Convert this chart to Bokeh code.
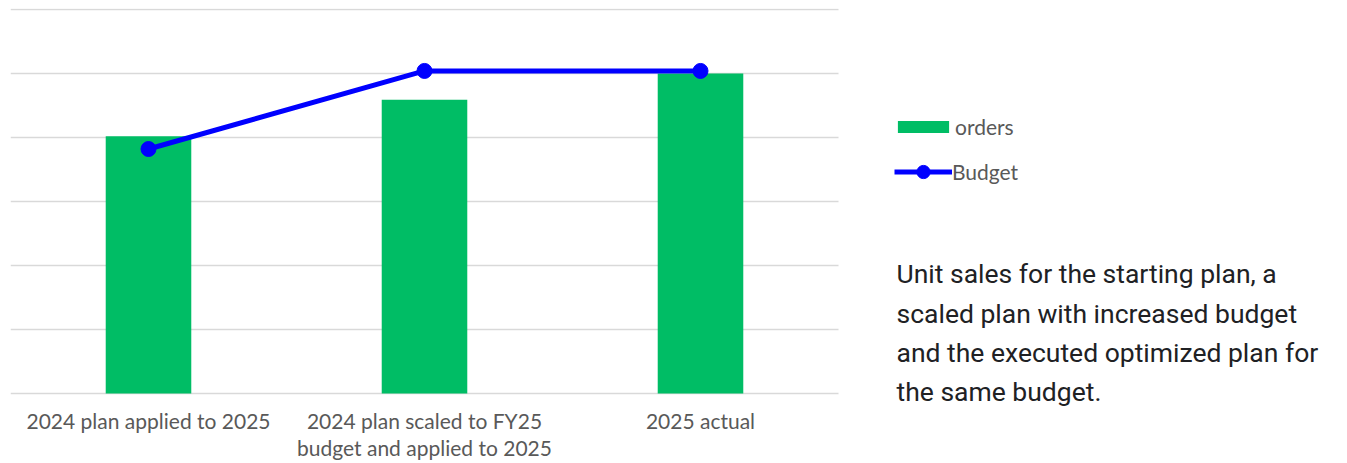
from bokeh.plotting import figure
from bokeh.models import (ColumnDataSource, Range1d, FixedTicker,
                          Legend, LegendItem, Label)
from bokeh.embed import file_html
from bokeh.resources import INLINE

# ---- data (in gridline units) ----
categories = ["2024 plan applied to 2025",
              "2024 plan scaled to FY25\nbudget and applied to 2025",
              "2025 actual"]
orders = [4.02, 4.59, 5.0]
budget = [3.82, 5.04, 5.04]
grid_ticks = [0, 1, 2, 3, 4, 5, 6]
caption_lines = ["Unit sales for the starting plan, a",
                 "scaled plan with increased budget",
                 "and the executed optimized plan for",
                 "the same budget."]
legend_labels = ["orders", "Budget"]

xs = [i + 0.5 for i in range(len(categories))]
src = ColumnDataSource(dict(x=xs, cat=categories, orders=orders, budget=budget))

# frame: image y 8 .. ~410, 64 px per gridline unit, y=0 at image y 393
p = figure(width=1347, height=463, output_backend="svg", toolbar_location=None,
           x_range=Range1d(0, 1337 / 276),
           y_range=Range1d(-17 / 64, 385 / 64),
           min_border_left=10, min_border_right=0,
           min_border_top=8, min_border_bottom=0)
p.outline_line_color = None
p.background_fill_color = "white"
p.border_fill_color = "white"

bars = p.vbar(x="x", top="orders", width=0.31, bottom=0, source=src,
              fill_color="#00bd65", line_color=None)
line = p.line(x="x", y="budget", source=src, line_color="#0000ff", line_width=5)
dots = p.scatter(x="x", y="budget", source=src, size=15, fill_color="#0000ff",
                 line_color="#0000ff")

p.yaxis.visible = False
p.ygrid.ticker = FixedTicker(ticks=grid_ticks)
p.ygrid.grid_line_color = "#d9d9d9"
p.ygrid.grid_line_width = 1.6
p.ygrid.cross_bounds = (0, len(categories))
p.xgrid.grid_line_color = None

ax = p.xaxis[0]
ax.ticker = FixedTicker(ticks=xs)
ax.major_label_overrides = {x: c for x, c in zip(xs, categories)}
ax.axis_line_color = None
ax.major_tick_line_color = None
ax.minor_tick_line_color = None
ax.major_label_standoff = -9
ax.major_label_text_font = "Lato"
ax.major_label_text_font_size = "21px"
ax.major_label_text_line_height = 1.11
ax.major_label_text_color = "#595959"

common = dict(orientation="vertical", label_standoff=0, padding=0, margin=0,
              label_text_font="Lato", label_text_font_size="21px",
              label_text_color="#595959", border_line_color=None,
              background_fill_alpha=0)
leg1 = Legend(items=[LegendItem(label=legend_labels[0], renderers=[bars])],
              location=(881, 271), glyph_width=64, glyph_height=15, **common)
leg2 = Legend(items=[LegendItem(label=legend_labels[1], renderers=[line, dots])],
              location=(884, 222), glyph_width=58, glyph_height=33, **common)
p.add_layout(leg1)
p.add_layout(leg2)

baselines = [137.3, 97.3, 58.4, 19.0]
for txt, yb in zip(caption_lines, baselines):
    p.add_layout(Label(x=886, y=yb, x_units="screen", y_units="screen", text=txt,
                       text_font="Roboto", text_font_size="26.5px",
                       text_color="#202124", text_baseline="alphabetic"))

open("out.html", "w").write(file_html(p, INLINE))
